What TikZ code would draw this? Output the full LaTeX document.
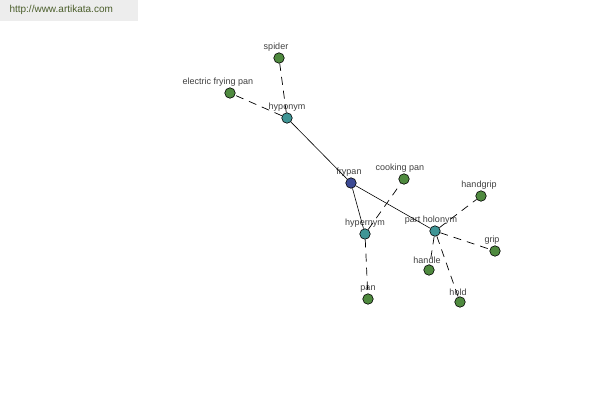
\documentclass[tikz,border=0pt]{standalone}
\usepackage{fontspec}
\setmainfont{Liberation Sans}
\definecolor{leafgreen}{HTML}{4F8A3F}
\definecolor{relteal}{HTML}{3F9595}
\definecolor{rootblue}{HTML}{3C4A94}
\definecolor{sitegreen}{HTML}{4B5E2B}
\begin{document}
\begin{tikzpicture}[x=1pt,y=-1pt]
    \tikzstyle{vert}=[circle, draw, line width=0.6pt, inner sep=0pt,
                      minimum width=10.5pt, label distance=-1pt]
    \tikzstyle{leaf}=[vert, fill=leafgreen]
    \tikzstyle{rel}=[vert, fill=relteal]
    \tikzstyle{link}=[dash pattern=on 8pt off 6pt, line width=0.7pt]
    \tikzset{every label/.style={font=\fontsize{9}{10}\selectfont,
                                 text=black!75, inner sep=1pt}}
    \useasboundingbox (0,0) rectangle (600,400);
    \fill[black!7] (0,0) rectangle (138,21);
    \node[anchor=west, font=\fontsize{10}{11}\selectfont,
          text=sitegreen] (site) at (6,10) {http://www.artikata.com};

    \node[vert, fill=rootblue, label={[xshift=-2pt]above:frypan}] (fry) at (351,183) {};
    \node[rel, label=above:hyponym] (hypo) at (287,118) {};
    \node[rel, label=above:hypernym] (hyper) at (365,234) {};
    \node[rel, label={[xshift=-4pt]above:part holonym}] (hol) at (435,231) {};
    \node[leaf, label={[xshift=-3pt]above:spider}] (spider) at (279,58) {};
    \node[leaf, label={[xshift=-12pt]above:electric frying pan}] (efp) at (230,93) {};
    \node[leaf, label={[xshift=-4pt]above:cooking pan}] (cook) at (404,179) {};
    \node[leaf, label=above:pan] (pan) at (368,299) {};
    \node[leaf, label={[xshift=-2pt]above:handgrip}] (hgrip) at (481,196) {};
    \node[leaf, label={[xshift=-3pt]above:grip}] (grip) at (495,251) {};
    \node[leaf, label={[xshift=-2pt]above:handle}] (handle) at (429,270) {};
    \node[leaf, label={[xshift=-2pt]above:hold}] (hold) at (460,302) {};

    \path[line width=0.6pt] (fry) edge (hypo) edge (hyper) edge (hol);
    \path[link] (hypo) edge (spider) edge (efp);
    \path[link] (hyper) edge (cook) edge (pan);
    \path[link] (hol) edge (hgrip) edge (grip) edge (handle) edge (hold);
\end{tikzpicture}
\end{document}
